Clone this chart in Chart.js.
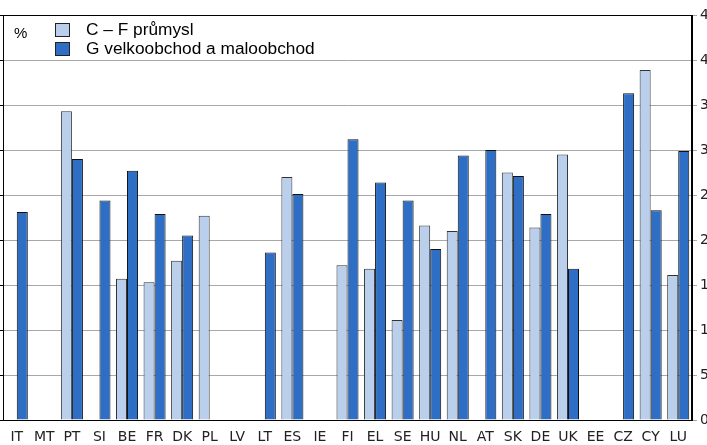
<!DOCTYPE html>
<html>
<head>
<meta charset="utf-8">
<script src="https://cdn.jsdelivr.net/npm/chart.js@4/dist/chart.umd.min.js"></script>
<style>
  html, body { margin: 0; padding: 0; overflow: hidden; background: #fff; width: 707px; height: 445px; }
  #wrap { position: absolute; left: 0; top: 0; width: 730px; height: 445px; }
</style>
</head>
<body>
<div id="wrap"><canvas id="c" width="730" height="445"></canvas></div>
<script>
// Countries along the x axis
const countries = ['IT','MT','PT','SI','BE','FR','DK','PL','LV','LT','ES','IE','FI','EL','SE','HU','NL','AT','SK','DE','UK','EE','CZ','CY','LU'];

// C – F průmysl (%)
const prumysl = [null, null, 34.3, null, 15.7, 15.3, 17.7, 22.7, null, null, 27.0, null, 17.2, 16.8, 11.1, 21.6, 21.0, null, 27.5, 21.4, 29.5, null, null, 38.9, 16.1];

// G velkoobchod a maloobchod (%)
const obchod = [23.1, null, 29.0, 24.4, 27.7, 22.9, 20.5, null, null, 18.6, 25.1, null, 31.2, 26.4, 24.4, 19.0, 29.4, 30.0, 27.1, 22.9, 16.8, null, 36.3, 23.3, 29.9];

// Value axis ticks
const yTicks = [0, 5, 10, 15, 20, 25, 30, 35, 40, 45];

const legendItems = ['C – F průmysl', 'G velkoobchod a maloobchod'];
const colLight = '#b9cfeb';
const colDark = '#2e6ec5';

// Frame around the plot area plus the in-plot legend
const framePlugin = {
  id: 'frameLegend',
  afterDraw(chart) {
    const ctx = chart.ctx;
    const a = chart.chartArea;
    ctx.save();
    ctx.strokeStyle = '#000';
    ctx.lineWidth = 1;
    ctx.strokeRect(Math.round(a.left) + 0.5, Math.round(a.top) + 0.5,
                   Math.round(a.right - a.left) - 1, Math.round(a.bottom - a.top));

    // legend
    ctx.textBaseline = 'middle';
    ctx.fillStyle = '#000';
    ctx.font = '15px "Liberation Sans", Arial, sans-serif';
    ctx.fillText('%', 14, 34);
    ctx.font = '17.3px "Liberation Sans", Arial, sans-serif';
    const ds = chart.data.datasets;
    const rows = [30, 49];
    ds.forEach((d, i) => {
      const y = rows[i];
      ctx.fillStyle = d.backgroundColor;
      ctx.fillRect(55, y - 7, 15, 14);
      ctx.strokeStyle = '#222';
      ctx.strokeRect(55.5, y - 6.5, 14, 13);
      ctx.fillStyle = '#000';
      ctx.fillText(legendItems[i], 86, y);
    });
    ctx.restore();
  }
};

new Chart(document.getElementById('c'), {
  type: 'bar',
  data: {
    labels: countries,
    datasets: [
      { label: legendItems[0], data: prumysl, backgroundColor: colLight, borderColor: '#333', borderWidth: 1 },
      { label: legendItems[1], data: obchod, backgroundColor: colDark, borderColor: '#111', borderWidth: 1 }
    ]
  },
  options: {
    responsive: false,
    animation: false,
    devicePixelRatio: 1,
    layout: { padding: { top: 15, left: 0, right: 0, bottom: 0 } },
    categoryPercentage: 0.8,
    barPercentage: 1.0,
    plugins: {
      legend: { display: false },
      tooltip: { enabled: false },
      title: { display: false }
    },
    scales: {
      x: {
        grid: { display: false, drawTicks: false },
        border: { display: true, color: '#000' },
        ticks: {
          color: '#222',
          font: { family: '"DejaVu Sans", Verdana, sans-serif', size: 14 },
          padding: 9,
          maxRotation: 0,
          autoSkip: false
        },
        afterFit(s) { s.height = 25; }
      },
      y: {
        position: 'right',
        min: 0, max: 45,
        afterBuildTicks(s) { s.ticks = yTicks.map(v => ({ value: v })); },
        grid: { color: '#a8a8a8', lineWidth: 1, tickLength: 5, drawTicks: true },
        border: { display: true, color: '#000' },
        ticks: {
          color: '#222',
          font: { family: '"DejaVu Sans", Verdana, sans-serif', size: 14 },
          padding: 3
        },
        afterFit(s) { s.width = 38; }
      },
      yL: {
        position: 'left',
        min: 0, max: 45,
        afterBuildTicks(s) { s.ticks = yTicks.map(v => ({ value: v })); },
        grid: { drawOnChartArea: false, drawTicks: true, tickLength: 3, color: '#000' },
        border: { display: true, color: '#000' },
        ticks: { display: false },
        afterFit(s) { s.width = 3; }
      }
    }
  },
  plugins: [framePlugin]
});
</script>
</body>
</html>
